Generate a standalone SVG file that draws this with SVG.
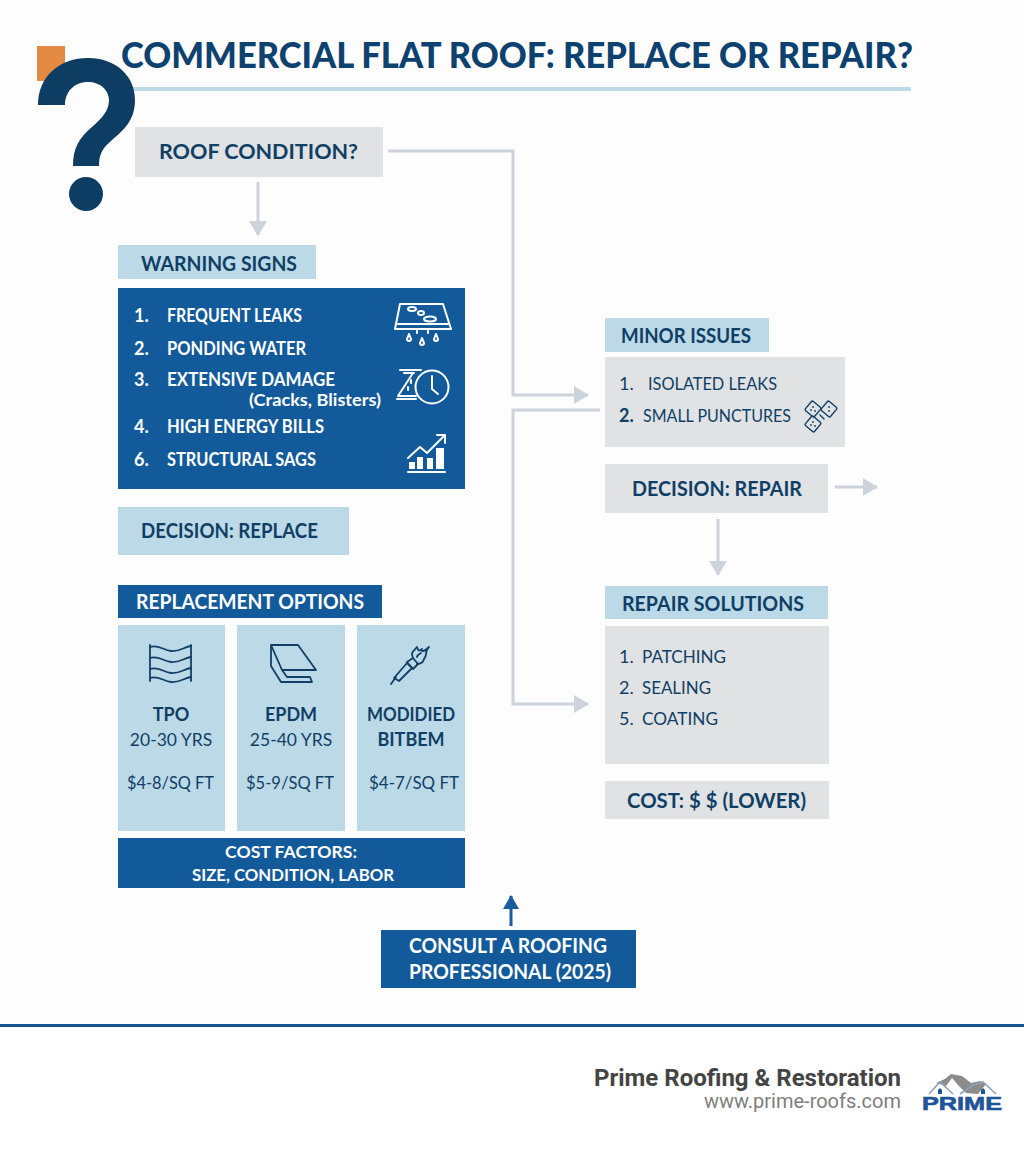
<svg xmlns="http://www.w3.org/2000/svg" width="1024" height="1154" viewBox="0 0 1024 1154">
<defs>
<marker id="ah" markerUnits="userSpaceOnUse" markerWidth="20" markerHeight="20" refX="14" refY="9" orient="auto"><path d="M0 0L15 9L0 18Z" fill="#ccd3da"/></marker>
<marker id="ab" markerUnits="userSpaceOnUse" markerWidth="20" markerHeight="20" refX="13" refY="8" orient="auto"><path d="M0 0L14 8L0 16Z" fill="#1a5c9c"/></marker>
</defs>
<style>
text{font-family:"Lato","Open Sans","Liberation Sans",sans-serif;fill:#103f66}
.b{font-weight:700}
.m{text-anchor:middle}
.w{fill:#fff}
.t{font-size:20px}
.gray{fill:#e0e2e4}
.light{fill:#bcd9e7}
.blue{fill:#135a9b}
.line{fill:none;stroke:#ccd3da;stroke-width:3}
.ic{fill:none;stroke:#fff;stroke-width:2;stroke-linejoin:round;stroke-linecap:round}
.id{fill:none;stroke:#123f66;stroke-width:1.8;stroke-linejoin:round;stroke-linecap:round}
</style>
<rect width="1024" height="1154" fill="#fdfdfe"/>

<g id="header">
<rect x="37" y="46" width="28" height="35" fill="#e58a42"/>
<text x="121" y="68" font-size="36" font-weight="900" textLength="792" lengthAdjust="spacingAndGlyphs" style="fill:#0d4270">COMMERCIAL FLAT ROOF: REPLACE OR REPAIR?</text>
<rect x="130" y="87" width="781" height="4" fill="#bcdbe9"/>
<path fill="#0d3d63" d="M38 105C38 76 60 58 88 58C116 58 135 76 135 100C135 120 124 130 112 140C103 148 99 153 99 166L73 166C73 148 79 138 92 127C102 118 109 111 109 100C109 90 100 82 88 82C74 82 65 92 65 105Z"/>
<circle cx="86" cy="194" r="17" fill="#0d3d63"/>
</g>

<g id="connectors">
<path class="line" d="M388 151H513V395H588" marker-end="url(#ah)"/>
<path class="line" d="M600 410H513V704H588" marker-end="url(#ah)"/>
<path class="line" d="M258 182V235" marker-end="url(#ah)"/>
<path class="line" d="M835 487H877" marker-end="url(#ah)"/>
<path class="line" d="M718 519V575" marker-end="url(#ah)"/>
<path d="M511 926V896" fill="none" stroke="#1a5c9c" stroke-width="3" marker-end="url(#ab)"/>
</g>

<g id="roof-condition">
<rect class="gray" x="135" y="127" width="248" height="50"/>
<text class="b t" x="159" y="159" textLength="199" lengthAdjust="spacingAndGlyphs">ROOF CONDITION?</text>
</g>

<g id="warning-signs">
<rect class="light" x="118" y="245" width="198" height="34"/>
<text class="b t" x="141" y="271" textLength="156" lengthAdjust="spacingAndGlyphs">WARNING SIGNS</text>
</g>

<g id="warning-list">
<rect class="blue" x="118" y="288" width="347" height="201"/>
<g class="b" font-size="18">
<text class="w" x="134" y="322">1.</text><text class="w" x="167" y="322" textLength="135" lengthAdjust="spacingAndGlyphs">FREQUENT LEAKS</text>
<text class="w" x="134" y="355">2.</text><text class="w" x="167" y="355" textLength="139" lengthAdjust="spacingAndGlyphs">PONDING WATER</text>
<text class="w" x="134" y="386">3.</text><text class="w" x="167" y="386" textLength="168" lengthAdjust="spacingAndGlyphs">EXTENSIVE DAMAGE</text>
<text class="w" x="249" y="406" font-size="17.5" textLength="132" lengthAdjust="spacingAndGlyphs">(Cracks, Blisters)</text>
<text class="w" x="134" y="433">4.</text><text class="w" x="167" y="433" textLength="157" lengthAdjust="spacingAndGlyphs">HIGH ENERGY BILLS</text>
<text class="w" x="134" y="466">6.</text><text class="w" x="167" y="466" textLength="149" lengthAdjust="spacingAndGlyphs">STRUCTURAL SAGS</text>
</g>
<g class="ic">
<path d="M400 304H443L451 329H395Z"/><path d="M398 324H449"/>
<ellipse cx="412" cy="309" rx="4" ry="2"/><ellipse cx="421" cy="313" rx="3" ry="2"/><ellipse cx="430" cy="319" rx="6" ry="2.5"/>
<path d="M409 334l-2 5a2 2 0 0 0 4 0z"/><path d="M422 338l-2 5a2 2 0 0 0 4 0z"/><path d="M436 334l-2 5a2 2 0 0 0 4 0z"/>
<path d="M417 331v2M428 331v2"/>
<path d="M400 370H421M404 373H414M413 373L398 396H416M411 380V383M408 387V390M397 399H416"/>
<circle cx="432" cy="387" r="16.5" fill="#135a9b"/><path d="M432 376V389L438 394"/>
<path d="M408 472H445"/>
<path d="M408 458L420 447L427 453L444 436M437 435H445V443"/>
<g fill="#fff" stroke="none"><path d="M409 462H415V469H409Z"/><path d="M417 457H423V469H417Z"/><path d="M427 458H433V469H427Z"/><path d="M436 448H444V469H436Z"/></g>
</g>
</g>

<g id="decision-replace">
<rect class="light" x="118" y="507" width="231" height="48"/>
<text class="b t" x="141" y="538" textLength="177" lengthAdjust="spacingAndGlyphs">DECISION: REPLACE</text>
</g>

<g id="replacement-options">
<rect class="blue" x="118" y="585" width="264" height="33"/>
<text class="b w t" x="136" y="609" textLength="228" lengthAdjust="spacingAndGlyphs">REPLACEMENT OPTIONS</text>
</g>

<g id="tpo">
<rect class="light" x="118" y="625" width="107" height="206"/>
<g class="id">
<path d="M150 645V681M191 645V681"/>
<path id="w1" d="M150 647C158 644 163 650 171 651C179 652 184 647 191 646"/>
<path d="M150 658C158 655 163 661 171 662C179 663 184 658 191 657"/>
<path d="M150 669C158 666 163 672 171 673C179 674 184 669 191 668"/>
<path d="M150 680C158 677 163 683 171 684C179 685 184 680 191 679" transform="translate(0,-2)"/>
</g>
<text class="b m" x="171" y="721" font-size="18">TPO</text>
<text class="m" x="171" y="746" font-size="17.5">20-30 YRS</text>
<text x="127" y="789" font-size="17.5" textLength="87" lengthAdjust="spacingAndGlyphs">$4-8/SQ FT</text>
</g>

<g id="epdm">
<rect class="light" x="237" y="625" width="108" height="206"/>
<g class="id">
<path d="M271 645H298L316 670H282L271 645V666L281 682H312L310 677H287L282 670"/>
</g>
<text class="b m" x="291" y="721" font-size="18">EPDM</text>
<text class="m" x="291" y="746" font-size="17.5">25-40 YRS</text>
<text x="246" y="789" font-size="17.5" textLength="88" lengthAdjust="spacingAndGlyphs">$5-9/SQ FT</text>
</g>

<g id="modified-bitumen">
<rect class="light" x="357" y="625" width="108" height="206"/>
<g class="id">
<path d="M391 684L396 677"/><path d="M394 678L399 681L412 668L407 663Z"/><path d="M407 662L413 658L418 664L413 669Z"/>
<path d="M413 658C410 652 414 651 417 647C418 650 419 652 422 649C421 652 424 652 429 647C424 651 428 655 424 659C423 663 420 664 417 664"/>
<path d="M417 657C417 655 419 654 421 653"/>
</g>
<text class="b m" x="411" y="721" font-size="18" textLength="88" lengthAdjust="spacingAndGlyphs">MODIDIED</text>
<text class="b m" x="411" y="746" font-size="18">BITBEM</text>
<text x="369" y="789" font-size="17.5" textLength="90" lengthAdjust="spacingAndGlyphs">$4-7/SQ FT</text>
</g>

<g id="cost-factors">
<rect class="blue" x="118" y="838" width="347" height="50"/>
<text class="b w" x="225" y="858" font-size="17.5" textLength="132" lengthAdjust="spacingAndGlyphs">COST FACTORS:</text>
<text class="b w" x="192" y="881" font-size="17.5" textLength="202" lengthAdjust="spacingAndGlyphs">SIZE, CONDITION, LABOR</text>
</g>

<g id="consult">
<rect class="blue" x="381" y="930" width="255" height="58"/>
<text class="b w t" x="409" y="953" textLength="198" lengthAdjust="spacingAndGlyphs">CONSULT A ROOFING</text>
<text class="b w t" x="409" y="979" textLength="202" lengthAdjust="spacingAndGlyphs">PROFESSIONAL (2025)</text>
</g>

<g id="minor-issues">
<rect class="light" x="605" y="318" width="164" height="34"/>
<text class="b t" x="621" y="343" textLength="130" lengthAdjust="spacingAndGlyphs">MINOR ISSUES</text>
</g>

<g id="minor-list">
<rect class="gray" x="605" y="357" width="240" height="90"/>
<text x="619" y="390" font-size="18">1.</text><text x="648" y="390" font-size="18" textLength="129" lengthAdjust="spacingAndGlyphs">ISOLATED LEAKS</text>
<text class="b" x="619" y="422" font-size="18">2.</text><text x="643" y="422" font-size="18" textLength="148" lengthAdjust="spacingAndGlyphs">SMALL PUNCTURES</text>
<g class="id" style="stroke-width:1.4">
<rect x="807" y="403" width="12" height="12" rx="1.5" transform="rotate(40 813 409)"/>
<rect x="823" y="403" width="12" height="12" rx="1.5" transform="rotate(40 829 409)"/>
<rect x="807" y="418" width="12" height="12" rx="1.5" transform="rotate(40 813 424)"/>
<path d="M820 415L824 419"/>
</g>
<g fill="#123f66"><circle cx="813" cy="407" r=".9"/><circle cx="811" cy="410" r=".9"/><circle cx="815" cy="411" r=".9"/><circle cx="829" cy="407" r=".9"/><circle cx="829" cy="411" r=".9"/><circle cx="813" cy="422" r=".9"/><circle cx="811" cy="425" r=".9"/><circle cx="815" cy="426" r=".9"/></g>
</g>

<g id="decision-repair">
<rect class="gray" x="605" y="464" width="223" height="49"/>
<text class="b t" x="632" y="496" textLength="170" lengthAdjust="spacingAndGlyphs">DECISION: REPAIR</text>
</g>

<g id="repair-solutions">
<rect class="light" x="605" y="586" width="223" height="33"/>
<text class="b t" x="622" y="611" textLength="182" lengthAdjust="spacingAndGlyphs">REPAIR SOLUTIONS</text>
</g>

<g id="repair-list">
<rect class="gray" x="605" y="626" width="224" height="138"/>
<text x="619" y="663" font-size="18">1.</text><text x="642" y="663" font-size="18" textLength="84" lengthAdjust="spacingAndGlyphs">PATCHING</text>
<text x="619" y="694" font-size="18">2.</text><text x="642" y="694" font-size="18" textLength="69" lengthAdjust="spacingAndGlyphs">SEALING</text>
<text x="619" y="725" font-size="18">5.</text><text x="642" y="725" font-size="18" textLength="76" lengthAdjust="spacingAndGlyphs">COATING</text>
</g>

<g id="cost-lower">
<rect class="gray" x="605" y="781" width="224" height="38"/>
<text class="b t" x="627" y="808" textLength="179" lengthAdjust="spacingAndGlyphs">COST: $ $ (LOWER)</text>
</g>

<g id="footer">
<rect x="0" y="1024" width="1024" height="3" fill="#14548f"/>
<rect x="0" y="1027" width="1024" height="127" fill="#fff"/>
<text x="901" y="1086" text-anchor="end" font-size="24" font-weight="700" style="font-family:Roboto,sans-serif;fill:#444">Prime Roofing &amp; Restoration</text>
<text x="901" y="1108" text-anchor="end" font-size="20" style="font-family:Roboto,sans-serif;fill:#7e7e7e">www.prime-roofs.com</text>
<path d="M936 1083L945 1079L951 1074L962 1076L971 1083L980 1081L986 1084L978 1094L966 1093L958 1085L952 1078L946 1086Z" fill="#8b8b8b"/>
<path d="M929 1094L940 1082L953 1094M960 1094L973 1085L983 1082L996 1094" fill="none" stroke="#8da3bb" stroke-width="1.6"/>
<path d="M938 1094V1090L940 1088L942 1090V1094ZM981 1094V1090L983 1088L985 1090V1094Z" fill="#1e5597"/>
<text x="922" y="1110" font-size="18" font-weight="700" textLength="80" lengthAdjust="spacingAndGlyphs" style="font-family:'Liberation Sans',sans-serif;fill:#1e5597;stroke:#1e5597;stroke-width:.6">PRIME</text>
</g>
</svg>
